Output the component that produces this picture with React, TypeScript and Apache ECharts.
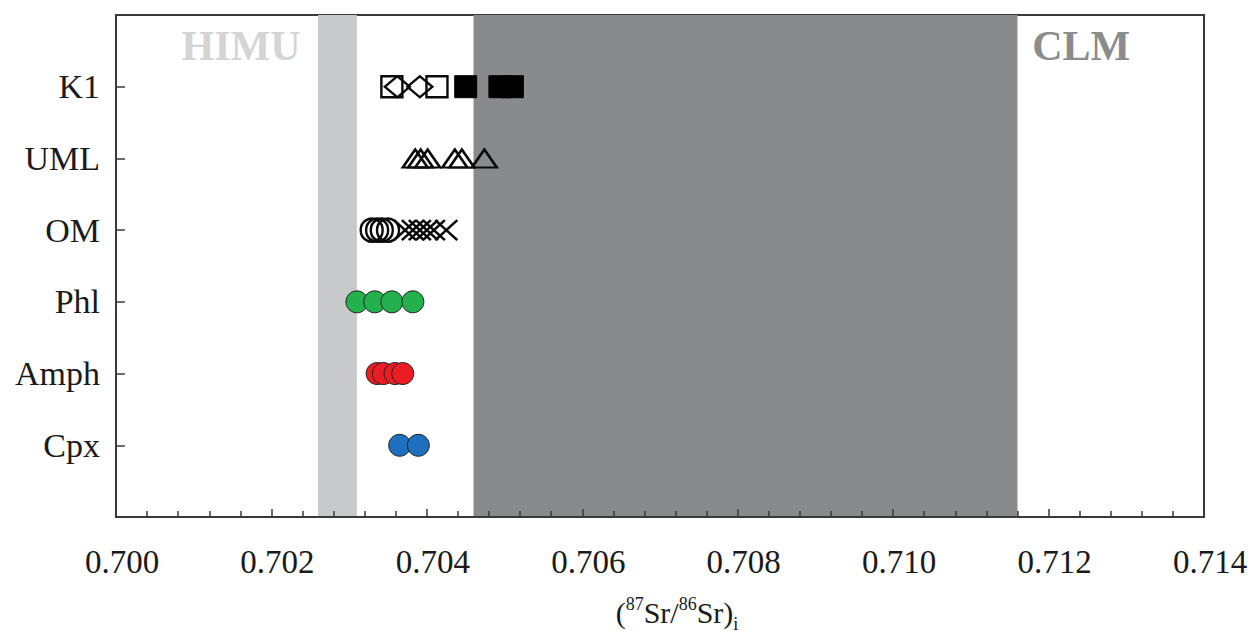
import React, { useEffect, useRef } from "react";
import * as echarts from "echarts";

// Row positions on the vertical axis (bottom to top)
const rowNames = ["", "Cpx", "Amph", "Phl", "OM", "UML", "K1", ""];
const ROW = { Cpx: 1, Amph: 2, Phl: 3, OM: 4, UML: 5, K1: 6 };

// (87Sr/86Sr)i tick labels
const xTickValues = [0.7, 0.702, 0.704, 0.706, 0.708, 0.71, 0.712, 0.714];
const xTickLabels = ["0.700", "0.702", "0.704", "0.706", "0.708", "0.710", "0.712", "0.714"];

// K1 kimberlite
const k1OpenSquares = [0.70355, 0.70413];
const k1OpenDiamonds = [0.70362, 0.70391];
const k1FilledSquares = [0.7045, 0.70494, 0.7051];
// UML
const umlTriangles = [0.70385, 0.70392, 0.70401, 0.70436, 0.70445, 0.70474];
// OM
const omCircles = [0.70329, 0.70336, 0.70342, 0.7035];
const omCrosses = [0.70372, 0.70382, 0.70391, 0.704, 0.70409, 0.70425];
// Minerals
const phlValues = [0.7031, 0.70333, 0.70355, 0.70382];
const amphValues = [0.70336, 0.70344, 0.70359, 0.70369];
const cpxValues = [0.70365, 0.70389];

// Reservoir fields
const himuRange = [0.7026, 0.7031];
const clmRange = [0.7046, 0.7116];
const fieldLabels = [
  { name: "HIMU", x: 0.70161, color: "#c8c8c8" },
  { name: "CLM", x: 0.71242, color: "#6c6c6c" },
];
const fieldLabelRow = 6.57;

const FONT = "'Liberation Serif', 'DejaVu Serif', serif";
const CROSS = "path://M0,0L20,20M20,0L0,20";

const pts = (vals: number[], row: number) => vals.map((v) => [v, row]);

const hollow = (name: string, symbol: string, size: any, data: number[][]) => ({
  name,
  type: "scatter",
  symbol,
  symbolSize: size,
  data,
  z: 4,
  itemStyle: { color: "rgba(0,0,0,0)", borderColor: "#0a0a0a", borderWidth: 2.4, opacity: 1 },
});

const filled = (name: string, color: string, data: number[][]) => ({
  name,
  type: "scatter",
  symbol: "circle",
  symbolSize: 22,
  data,
  z: 4,
  itemStyle: { color, borderColor: "#222", borderWidth: 1, opacity: 1 },
});

export default function App() {
  const ref = useRef<HTMLDivElement>(null);

  useEffect(() => {
    const el = ref.current;
    if (!el) return;
    const chart = echarts.init(el, undefined, { renderer: "svg" });

    chart.setOption({
      animation: false,
      backgroundColor: "#ffffff",
      grid: {
        left: 116,
        right: 47,
        top: 15,
        height: 502,
        outerBoundsMode: "none",
        containLabel: false,
        show: true,
        borderColor: "#3a3a3a",
        borderWidth: 2,
        backgroundColor: "transparent",
      },
      xAxis: {
        type: "value",
        min: 0.7,
        max: 0.714,
        interval: 0.002,
        z: 6,
        axisLine: { show: true, lineStyle: { color: "#3a3a3a", width: 2 } },
        axisTick: { show: true, inside: true, length: 8, lineStyle: { color: "#3a3a3a", width: 1.5 } },
        minorTick: { show: true, splitNumber: 5, length: 6, lineStyle: { color: "#3a3a3a", width: 1.5 } },
        splitLine: { show: false },
        axisLabel: {
          margin: 28,
          fontFamily: FONT,
          fontSize: 33,
          color: "#1a1a1a",
          padding: [0, 0, 0, 12],
          formatter: (v: number) => {
            const i = xTickValues.findIndex((t) => Math.abs(t - v) < 1e-7);
            return i >= 0 ? xTickLabels[i] : "";
          },
        },
        name: "{p|(}{sup|87}{p|Sr/}{sup|86}{p|Sr)}{sub|i}",
        nameLocation: "middle",
        nameGap: 78,
        nameTextStyle: {
          padding: [0, 0, 0, 34],
          rich: {
            p: { fontFamily: FONT, fontSize: 30, color: "#1a1a1a", lineHeight: 34 },
            sup: { fontFamily: FONT, fontSize: 18, color: "#1a1a1a", verticalAlign: "top", lineHeight: 34 },
            sub: { fontFamily: FONT, fontSize: 18, color: "#1a1a1a", verticalAlign: "bottom", lineHeight: 34, padding: [0, 0, -4, 0] },
          },
        },
      },
      yAxis: {
        type: "value",
        min: 0,
        max: 7,
        interval: 1,
        z: 6,
        axisLine: { show: true, lineStyle: { color: "#3a3a3a", width: 2 } },
        axisTick: { show: true, inside: true, length: 9, lineStyle: { color: "#3a3a3a", width: 1.5 } },
        splitLine: { show: false },
        axisLabel: {
          margin: 16,
          fontFamily: FONT,
          fontSize: 34,
          color: "#1a1a1a",
          formatter: (v: number) => rowNames[Math.round(v)] || "",
        },
      },
      series: [
        {
          name: "fields",
          type: "scatter",
          data: [],
          z: 1,
          markArea: {
            silent: true,
            data: [
              [{ xAxis: himuRange[0], itemStyle: { color: "#c8c9cb", opacity: 1 } }, { xAxis: himuRange[1] }],
              [{ xAxis: clmRange[0], itemStyle: { color: "#898a8c", opacity: 1 } }, { xAxis: clmRange[1] }],
            ],
          },
        },
        {
          name: "field labels",
          type: "scatter",
          symbolSize: 1,
          z: 3,
          itemStyle: { color: "rgba(0,0,0,0)" },
          data: fieldLabels.map((f) => ({
            name: f.name,
            value: [f.x, fieldLabelRow],
            label: { color: f.color },
          })),
          label: {
            show: true,
            position: "inside",
            formatter: "{b}",
            fontFamily: FONT,
            fontWeight: "bold",
            fontSize: 42,
          },
        },
        hollow("K1 open square", "rect", 21, pts(k1OpenSquares, ROW.K1)),
        hollow("K1 open diamond", "diamond", [25, 21], pts(k1OpenDiamonds, ROW.K1)),
        {
          name: "K1 filled square",
          type: "scatter",
          symbol: "rect",
          symbolSize: 22,
          z: 4,
          data: pts(k1FilledSquares, ROW.K1),
          itemStyle: { color: "#000000", borderColor: "#000000", borderWidth: 1, opacity: 1 },
        },
        hollow("UML", "triangle", [25, 18], pts(umlTriangles, ROW.UML)),
        hollow("OM circle", "circle", [22, 23], pts(omCircles, ROW.OM)),
        hollow("OM cross", CROSS, [22, 20], pts(omCrosses, ROW.OM)),
        filled("Phl", "#22b14c", pts(phlValues, ROW.Phl)),
        filled("Amph", "#ec1c24", pts(amphValues, ROW.Amph)),
        filled("Cpx", "#1f6fc1", pts(cpxValues, ROW.Cpx)),
      ],
    });

    return () => chart.dispose();
  }, []);

  return (
    <div
      ref={ref}
      style={{ position: "fixed", left: 0, top: 0, width: 1251, height: 631, background: "#fff" }}
    />
  );
}
